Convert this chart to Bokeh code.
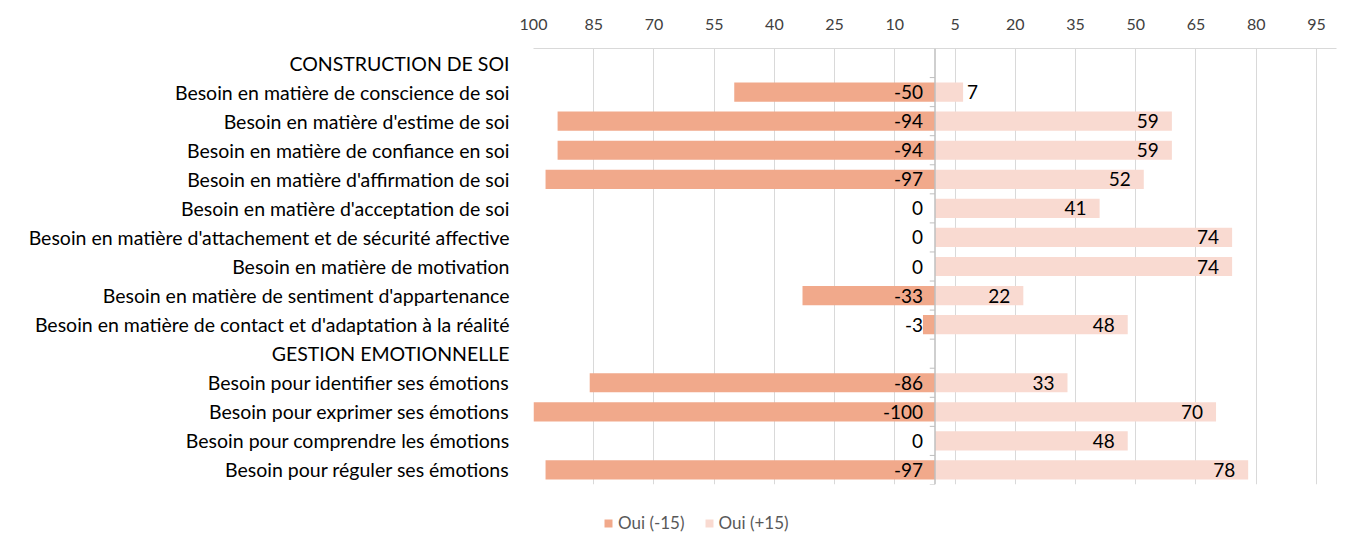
from bokeh.plotting import figure
from bokeh.layouts import column
from bokeh.models import (ColumnDataSource, FactorRange, FixedTicker, Span, Legend,
                          LegendItem)
from bokeh.transform import dodge
from bokeh.embed import file_html
from bokeh.resources import INLINE
from bokeh.core.properties import value

categories = [
    "CONSTRUCTION DE SOI",
    "Besoin en matière de conscience de soi",
    "Besoin en matière d'estime de soi",
    "Besoin en matière de confiance en soi",
    "Besoin en matière d'affirmation de soi",
    "Besoin en matière d'acceptation de soi",
    "Besoin en matière d'attachement et de sécurité affective",
    "Besoin en matière de motivation",
    "Besoin en matière de sentiment d'appartenance",
    "Besoin en matière de contact et d'adaptation à la réalité",
    "GESTION EMOTIONNELLE",
    "Besoin pour identifier ses émotions",
    "Besoin pour exprimer ses émotions",
    "Besoin pour comprendre les émotions",
    "Besoin pour réguler ses émotions",
]
oui_moins15 = [None, -50, -94, -94, -97, 0, 0, 0, -33, -3, None, -86, -100, 0, -97]
oui_plus15 = [None, 7, 59, 59, 52, 41, 74, 74, 22, 48, None, 33, 70, 48, 78]
tick_positions = [-100, -85, -70, -55, -40, -25, -10, 5, 20, 35, 50, 65, 80, 95]
tick_labels = ["100", "85", "70", "55", "40", "25", "10", "5", "20", "35", "50", "65", "80", "95"]
series_names = ["Oui (-15)", "Oui (+15)"]

FONT = "Lato"
C_NEG = "#F1A98B"
C_POS = "#F9DAD1"
GRID = "#D9D9D9"
W = 1343

rows = [(c, n, p) for c, n, p in zip(categories, oui_moins15, oui_plus15) if n is not None]
cats_data = [r[0] for r in rows]
neg_vals = [r[1] for r in rows]
pos_vals = [r[2] for r in rows]

src = ColumnDataSource(dict(
    y=cats_data,
    neg=neg_vals,
    pos=pos_vals,
    zero=[0] * len(rows),
    neg_txt=[str(v) for v in neg_vals],
))
big = [i for i, v in enumerate(pos_vals) if v >= 12]
small = [i for i, v in enumerate(pos_vals) if v < 12]
src_big = ColumnDataSource(dict(y=[cats_data[i] for i in big], x=[pos_vals[i] for i in big],
                                t=[str(pos_vals[i]) for i in big]))
src_small = ColumnDataSource(dict(y=[cats_data[i] for i in small], x=[pos_vals[i] for i in small],
                                  t=[str(pos_vals[i]) for i in small]))

yr = FactorRange(factors=list(reversed(categories)), range_padding=0)

p = figure(width=W, height=492, x_range=(-100, 100), y_range=yr,
           output_backend="svg", toolbar_location=None, x_axis_location="above",
           min_border_left=533, min_border_right=7, min_border_top=48, min_border_bottom=8)
p.outline_line_color = None

# axes
xa = p.xaxis[0]
xa.ticker = FixedTicker(ticks=tick_positions)
xa.major_label_overrides = {t: l for t, l in zip(tick_positions, tick_labels)}
xa.axis_line_color = GRID
xa.major_tick_line_color = None
xa.minor_tick_line_color = None
xa.major_label_standoff = 13
xa.major_label_text_font = FONT
xa.major_label_text_font_size = "16px"
xa.major_label_text_color = "#404040"

ya = p.yaxis[0]
ya.axis_line_color = None
ya.major_tick_line_color = None
ya.minor_tick_line_color = None
ya.major_label_standoff = 18
ya.major_label_text_font = FONT
ya.major_label_text_font_size = "19.5px"
ya.major_label_text_color = "#000000"

p.xgrid.ticker = FixedTicker(ticks=tick_positions)
p.xgrid.grid_line_color = GRID
p.ygrid.grid_line_color = None

# bars
p.hbar(y="y", left="neg", right="zero", height=0.66, source=src,
       fill_color=C_NEG, line_color=None)
p.hbar(y="y", left="zero", right="pos", height=0.66, source=src,
       fill_color=C_POS, line_color=None)

# zero axis with small ticks between categories
p.add_layout(Span(location=0, dimension="height", line_color="#BFBFBF", line_width=1.5))
tick_src = ColumnDataSource(dict(y=categories, x0=[-1.3] * len(categories), x1=[0] * len(categories)))
p.segment(x0="x0", x1="x1", y0=dodge("y", -0.5, range=yr), y1=dodge("y", -0.5, range=yr),
          source=tick_src, line_color="#BFBFBF", line_width=1)

# value labels
lbl = dict(text_baseline="middle", text_font=value(FONT), text_font_size="19px", text_color="#000000")
p.text(x="zero", y="y", text="neg_txt", source=src, text_align="right", x_offset=-12, **lbl)
p.text(x="x", y="y", text="t", source=src_big, text_align="right", x_offset=-13, **lbl)
p.text(x="x", y="y", text="t", source=src_small, text_align="left", x_offset=4, **lbl)

# legend strip (frame aligned with the main plot's frame)
lf = figure(width=W, height=44, x_range=(0, 1), y_range=(0, 1), output_backend="svg",
            toolbar_location=None, x_axis_type=None, y_axis_type=None,
            min_border_left=0, min_border_right=0, min_border_top=0, min_border_bottom=0)
lf.outline_line_color = None
lf.grid.grid_line_color = None
nan = float("nan")
dummy = ColumnDataSource(dict(y=[nan], l=[nan], r=[nan]))
d_neg = lf.hbar(y="y", left="l", right="r", height=0.5, source=dummy, fill_color=C_NEG, line_color=None)
d_pos = lf.hbar(y="y", left="l", right="r", height=0.5, source=dummy, fill_color=C_POS, line_color=None)
legend = Legend(items=[LegendItem(label=series_names[0], renderers=[d_neg], index=0),
                       LegendItem(label=series_names[1], renderers=[d_pos], index=0)],
                location=(70, 3), orientation="horizontal",
                glyph_width=10, glyph_height=10, label_text_font=FONT,
                label_text_font_size="17px", label_text_color="#595959",
                spacing=19, padding=0, margin=0, label_standoff=5,
                border_line_color=None, background_fill_alpha=0)
lf.add_layout(legend, "center")

layout = column(p, lf, spacing=0)
open("out.html", "w").write(file_html(layout, INLINE))
